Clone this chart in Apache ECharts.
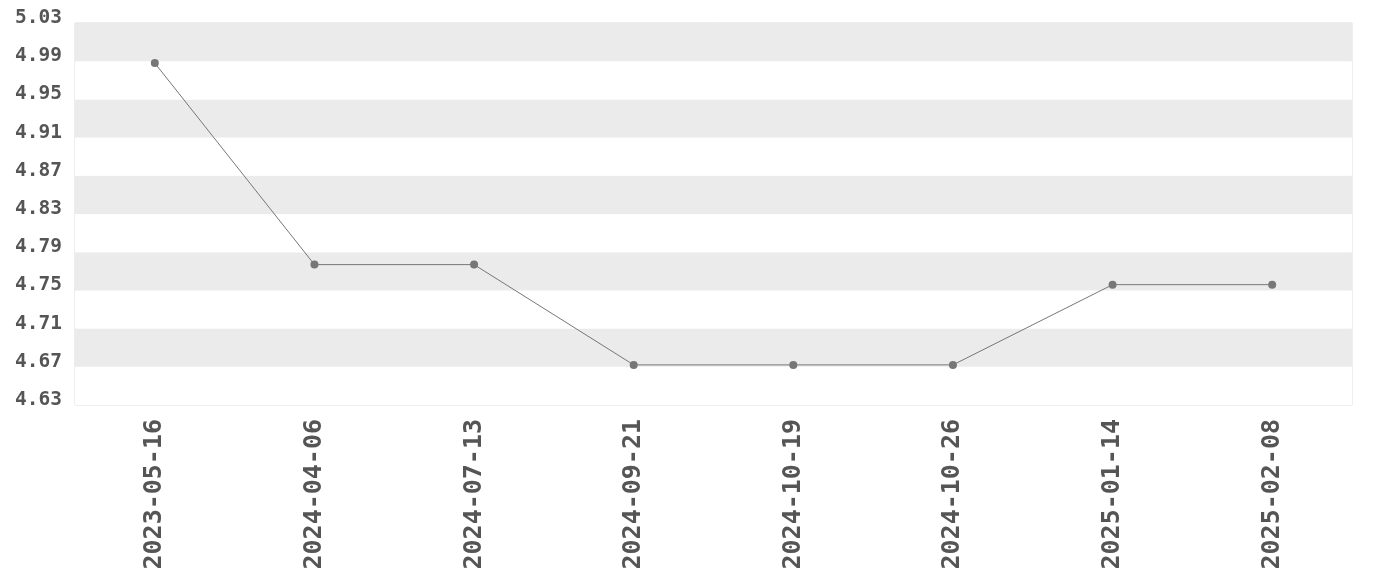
<!DOCTYPE html>
<html>
<head>
<meta charset="utf-8">
<script src="https://cdn.jsdelivr.net/npm/echarts@6/dist/echarts.min.js"></script>
<style>
  html, body { margin: 0; padding: 0; background: #fff; }
  #chart { width: 1380px; height: 580px; }
</style>
</head>
<body>
<div id="chart"></div>
<script>
  const dates = ['2023-05-16', '2024-04-06', '2024-07-13', '2024-09-21', '2024-10-19', '2024-10-26', '2025-01-14', '2025-02-08'];
  const rates = [4.988, 4.777, 4.777, 4.672, 4.672, 4.672, 4.756, 4.756];

  const yMin = 4.63;
  const yMax = 5.03;
  const yStep = 0.04;

  const chart = echarts.init(document.getElementById('chart'));

  chart.setOption({
    animation: false,
    grid: {
      left: 75,
      right: 28,
      top: 23,
      bottom: 175,
      show: true,
      borderColor: '#dddddd',
      borderWidth: 1,
      backgroundColor: 'transparent'
    },
    xAxis: {
      type: 'category',
      data: dates,
      boundaryGap: true,
      axisLine: { show: false },
      axisTick: { show: false },
      axisLabel: {
        rotate: 90,
        margin: 14,
        fontFamily: 'DejaVu Sans Mono',
        fontWeight: 'bold',
        fontSize: 25,
        color: '#555'
      }
    },
    yAxis: {
      type: 'value',
      min: yMin,
      max: yMax,
      interval: yStep,
      axisLine: { show: false },
      axisTick: { show: false },
      splitLine: { show: false },
      splitArea: {
        show: true,
        areaStyle: { color: ['#ffffff', '#ebebeb'] }
      },
      axisLabel: {
        margin: 13,
        verticalAlign: 'bottom',
        lineHeight: 10,
        fontFamily: 'DejaVu Sans Mono',
        fontWeight: 'bold',
        fontSize: 19.5,
        color: '#555',
        formatter: (v) => v.toFixed(2)
      }
    },
    series: [{
      type: 'line',
      data: rates,
      symbol: 'circle',
      symbolSize: 8,
      lineStyle: { color: '#777777', width: 1 },
      itemStyle: { color: '#777777' }
    }]
  });
</script>
</body>
</html>
